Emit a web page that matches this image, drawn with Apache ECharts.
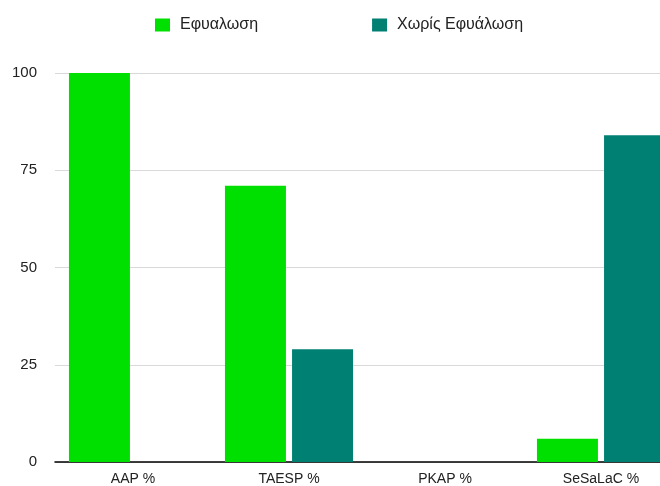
<!DOCTYPE html>
<html>
<head>
<meta charset="utf-8">
<script src="https://cdn.jsdelivr.net/npm/echarts@6/dist/echarts.min.js"></script>
<style>html,body{margin:0;padding:0;background:#fff;overflow:hidden;width:660px;height:486px}#c{width:679px;height:486px}</style>
</head>
<body>
<div id="c"></div>
<script>
const categories = ['AAP %', 'TAESP %', 'PKAP %', 'SeSaLaC %'];
const seriesNames = ['Εφυαλωση', 'Χωρίς Εφυάλωση'];
const withGlazing = [100, 71, 0, 6];
const withoutGlazing = [0, 29, 0, 84];
const yTicks = { min: 0, max: 100, interval: 25 };

const chart = echarts.init(document.getElementById('c'), null, { renderer: 'canvas' });
const font = 'Liberation Sans, Arial, Helvetica, sans-serif';
chart.setOption({
  animation: false,
  textStyle: { fontFamily: font },
  legend: {
    top: 17, left: 155, padding: 0, itemWidth: 15, itemHeight: 13, itemGap: 114,
    icon: 'rect',
    textStyle: { fontSize: 16, color: '#222', fontFamily: font, padding: [0, 0, 0, 5] },
    data: seriesNames
  },
  grid: { left: 55, right: 0, top: 73, bottom: 24, containLabel: false },
  xAxis: {
    type: 'category', data: categories,
    axisLine: { lineStyle: { color: '#000', width: 1.5 } },
    axisTick: { show: false },
    axisLabel: { fontSize: 14, color: '#222', margin: 10, fontFamily: font }
  },
  yAxis: {
    type: 'value', min: yTicks.min, max: yTicks.max, interval: yTicks.interval,
    axisLine: { show: false }, axisTick: { show: false },
    splitLine: { lineStyle: { color: '#d9d9d9', width: 1 } },
    axisLabel: { fontSize: 15, color: '#222', margin: 18, fontFamily: font }
  },
  series: [
    { name: seriesNames[0], type: 'bar', data: withGlazing, barWidth: 61, barGap: '10%',
      itemStyle: { color: '#00e000' } },
    { name: seriesNames[1], type: 'bar', data: withoutGlazing, barWidth: 61,
      itemStyle: { color: '#007f73' } }
  ]
});
</script>
</body>
</html>
